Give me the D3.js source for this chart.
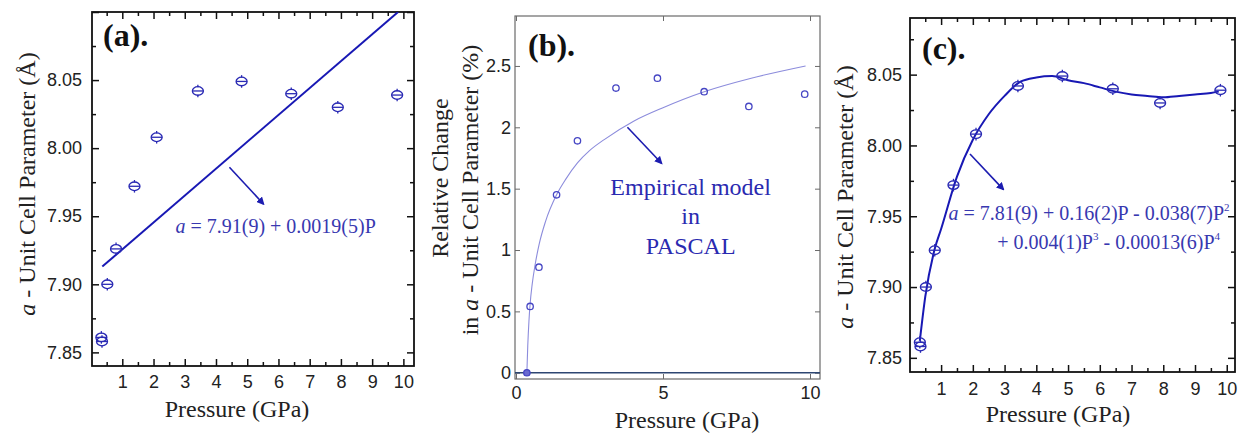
<!DOCTYPE html>
<html>
<head>
<meta charset="utf-8">
<script src="https://cdn.jsdelivr.net/npm/d3@7"></script>
<style>
body { margin: 0; background: #fff; }
svg { display: block; }
</style>
</head>
<body>
<svg id="chart"></svg>
<script>
const width = 1241;
const height = 434;

// measured lattice parameter, panels (a) and (c)
const pressure = [0.33, 0.35, 0.52, 0.80, 1.39, 2.10, 3.42, 4.82, 6.41, 7.90, 9.80];
const cellA = [7.861, 7.858, 7.900, 7.926, 7.972, 8.008, 8.042, 8.049, 8.040, 8.030, 8.039];

// relative change, panel (b)
const pressureB = [0.37, 0.48, 0.78, 1.38, 2.09, 3.40, 4.81, 6.40, 7.92, 9.82];
const relChange = [0.0, 0.54, 0.86, 1.45, 1.89, 2.32, 2.40, 2.29, 2.17, 2.27];

// fitted curves
const linearP = [0.36, 9.83];
const linearA = [7.913, 8.100];
const pascalP = [0.37, 0.40, 0.44, 0.48, 0.55, 0.65, 0.79, 1.0, 1.38, 1.7, 2.09, 2.5, 3.0, 4.0, 5.0, 6.4, 8.0, 9.85];
const pascalChange = [0.0, 0.22, 0.42, 0.56, 0.72, 0.88, 1.05, 1.23, 1.45, 1.58, 1.71, 1.81, 1.90, 2.05, 2.16, 2.29, 2.40, 2.50];
const polyP = [0.33, 0.5, 0.8, 1.0, 1.5, 2.0, 2.5, 3.0, 3.5, 4.0, 4.5, 5.0, 5.5, 6.0, 6.5, 7.0, 7.5, 8.0, 8.5, 9.0, 9.5, 9.75];
const polyA = [7.862, 7.893, 7.927, 7.941, 7.978, 8.004, 8.022, 8.035, 8.045, 8.048, 8.049, 8.046, 8.044, 8.041, 8.038, 8.036, 8.035, 8.034, 8.035, 8.036, 8.037, 8.038];

// ticks
const xTicksAC = [1, 2, 3, 4, 5, 6, 7, 8, 9, 10];
const xMinorAC = [0.5, 1.5, 2.5, 3.5, 4.5, 5.5, 6.5, 7.5, 8.5, 9.5];
const yTicksAC = [7.85, 7.90, 7.95, 8.00, 8.05, 8.10];
const yMinorAC = [7.875, 7.925, 7.975, 8.025, 8.075];
const xTicksB = [0, 5, 10];
const yTicksB = [0, 0.5, 1, 1.5, 2, 2.5];

const serif = "'Liberation Serif', 'Times New Roman', serif";
const sans = "'Liberation Sans', Arial, sans-serif";
const blue = "#2a2ab4";
const textBlue = "#3838b0";

const svg = d3.select("#chart")
    .attr("width", width)
    .attr("height", height);

const defs = svg.append("defs");

defs.append("marker")
    .attr("id", "head")
    .attr("viewBox", "0 0 10 10")
    .attr("refX", 8)
    .attr("refY", 5)
    .attr("markerWidth", 8)
    .attr("markerHeight", 8)
    .attr("markerUnits", "userSpaceOnUse")
    .attr("orient", "auto")
    .append("path")
    .attr("d", "M0,0 L10,5 L0,10 z")
    .attr("fill", "#1c1cb0");

function panel(o) {
    const g = svg.append("g");
    const x = d3.scaleLinear().domain(o.xDomain).range([o.left, o.right]);
    const y = d3.scaleLinear().domain(o.yDomain).range([o.bottom, o.top]);
    const inX = v => v >= o.xDomain[0] && v <= o.xDomain[1] + 1e-9;
    const inY = v => v >= o.yDomain[0] && v <= o.yDomain[1] + 1e-9;

    defs.append("clipPath")
        .attr("id", o.id)
        .append("rect")
        .attr("x", o.left)
        .attr("y", o.top)
        .attr("width", o.right - o.left)
        .attr("height", o.bottom - o.top);

    const axes = [
        [d3.axisBottom(x), o.bottom, o.xTicks, o.major, o.xFormat, o.xPad, "x"],
        [d3.axisTop(x), o.top, o.xTicks, o.major, "", 0, "x"],
        [d3.axisLeft(y), o.left, o.yTicks, o.major, o.yFormat, o.yPad, "y"],
        [d3.axisRight(y), o.right, o.yTicks, o.major, "", 0, "y"]
    ];
    if (o.xMinor) {
        axes.push([d3.axisBottom(x), o.bottom, o.xMinor, o.minor, "", 0, "x"]);
        axes.push([d3.axisTop(x), o.top, o.xMinor, o.minor, "", 0, "x"]);
        axes.push([d3.axisLeft(y), o.left, o.yMinor, o.minor, "", 0, "y"]);
        axes.push([d3.axisRight(y), o.right, o.yMinor, o.minor, "", 0, "y"]);
    }

    axes.forEach(([axis, pos, values, size, fmt, pad, dir]) => {
        axis.tickValues(values.filter(dir === "x" ? inX : inY))
            .tickSize(-size)
            .tickPadding(pad);
        axis.tickFormat(fmt === "" ? () => "" : fmt);
        const a = g.append("g")
            .attr("transform", dir === "x" ? `translate(0,${pos})` : `translate(${pos},0)`)
            .call(axis);
        a.select(".domain").remove();
        a.selectAll(".tick line")
            .attr("stroke", o.frameColor)
            .attr("stroke-width", o.tickWidth);
        a.selectAll(".tick text")
            .attr("font-family", sans)
            .attr("font-size", 18)
            .attr("fill", "#222");
    });

    g.append("rect")
        .attr("x", o.left)
        .attr("y", o.top)
        .attr("width", o.right - o.left)
        .attr("height", o.bottom - o.top)
        .attr("fill", "none")
        .attr("stroke", o.frameColor)
        .attr("stroke-width", o.frameWidth);

    const plot = g.append("g").attr("clip-path", `url(#${o.id})`);
    return { g, plot, x, y };
}

function errMarkers(p) {
    const m = p.g.append("g")
        .selectAll("g")
        .data(pressure.map((v, i) => [v, cellA[i]]))
        .join("g")
        .attr("transform", d => `translate(${p.x(d[0])},${p.y(d[1])})`)
        .attr("fill", "none")
        .attr("stroke", blue)
        .attr("stroke-width", 1.3);
    m.append("ellipse").attr("rx", 5.5).attr("ry", 4.3);
    m.append("line").attr("x1", -5.5).attr("x2", 5.5);
    m.append("line").attr("y1", -6.3).attr("y2", -3.8);
    m.append("line").attr("y1", 3.8).attr("y2", 6.3);
}

function arrow(p, x1, y1, x2, y2) {
    p.g.append("line")
        .attr("x1", p.x(x1))
        .attr("y1", p.y(y1))
        .attr("x2", p.x(x2))
        .attr("y2", p.y(y2))
        .attr("stroke", "#1c1cb0")
        .attr("stroke-width", 1.6)
        .attr("marker-end", "url(#head)");
}

function panelLabel(p, x, y, txt) {
    p.g.append("text")
        .attr("x", x)
        .attr("y", y)
        .attr("font-family", serif)
        .attr("font-weight", "bold")
        .attr("font-size", 32)
        .attr("fill", "#111")
        .text(txt);
}

function xTitle(p, cx, by) {
    p.g.append("text")
        .attr("x", cx)
        .attr("y", by)
        .attr("text-anchor", "middle")
        .attr("font-family", serif)
        .attr("font-size", 24)
        .attr("fill", "#222")
        .text("Pressure (GPa)");
}

function yTitle(p, cx, cy, before, after) {
    const t = p.g.append("text")
        .attr("transform", `translate(${cx},${cy}) rotate(-90)`)
        .attr("dy", "0.32em")
        .attr("text-anchor", "middle")
        .attr("font-family", serif)
        .attr("font-size", 24)
        .attr("fill", "#222");
    if (before) t.append("tspan").text(before);
    t.append("tspan").attr("font-style", "italic").text("a");
    t.append("tspan").text(after);
}

const line = d3.line().x(d => d.x).y(d => d.y);

// (a)
const pa = panel({
    id: "clipA", left: 92, right: 414, top: 12, bottom: 366,
    xDomain: [0.03, 10.34], yDomain: [7.84, 8.10],
    xTicks: xTicksAC, yTicks: yTicksAC, xMinor: xMinorAC, yMinor: yMinorAC,
    major: 7, minor: 4, xPad: 9, yPad: 10,
    xFormat: d3.format("d"), yFormat: d => d > 8.09 ? "" : d3.format(".2f")(d),
    frameColor: "#111", frameWidth: 1.8, tickWidth: 1.5
});

pa.plot.append("path")
    .attr("d", line(linearP.map((p, i) => ({ x: pa.x(p), y: pa.y(linearA[i]) }))))
    .attr("fill", "none")
    .attr("stroke", "#1818b4")
    .attr("stroke-width", 2);

errMarkers(pa);
arrow(pa, 4.43, 7.986, 5.52, 7.959);

const eqA = pa.g.append("text")
    .attr("x", pa.x(5.91))
    .attr("y", pa.y(7.938))
    .attr("text-anchor", "middle")
    .attr("font-family", serif)
    .attr("font-size", 20)
    .attr("fill", textBlue);
eqA.append("tspan").attr("font-style", "italic").text("a");
eqA.append("tspan").text(" = 7.91(9) + 0.0019(5)P");

panelLabel(pa, 103, 46, "(a).");
xTitle(pa, 237, 417);
yTitle(pa, 27, 184, "", " - Unit Cell Parameter (Å)");

// (b)
const pb = panel({
    id: "clipB", left: 515, right: 820, top: 16, bottom: 379,
    xDomain: [-0.034, 10.34], yDomain: [-0.051, 2.907],
    xTicks: xTicksB, yTicks: yTicksB,
    major: 5, xPad: 7, yPad: 4,
    xFormat: d3.format("d"), yFormat: d3.format("~g"),
    frameColor: "#6a6a6a", frameWidth: 1.2, tickWidth: 1
});

pb.plot.append("line")
    .attr("x1", pb.x(-0.034))
    .attr("x2", pb.x(10.34))
    .attr("y1", pb.y(0))
    .attr("y2", pb.y(0))
    .attr("stroke", "#2d4672")
    .attr("stroke-width", 1.6);

pb.plot.append("path")
    .attr("d", line.curve(d3.curveMonotoneX)(pascalP.map((p, i) => ({ x: pb.x(p), y: pb.y(pascalChange[i]) }))))
    .attr("fill", "none")
    .attr("stroke", "#8c8cdc")
    .attr("stroke-width", 1.1);

pb.g.append("g")
    .selectAll("circle")
    .data(pressureB.map((p, i) => [p, relChange[i]]))
    .join("circle")
    .attr("cx", d => pb.x(d[0]))
    .attr("cy", d => pb.y(d[1]))
    .attr("r", 3.2)
    .attr("fill", (d, i) => i === 0 ? "#6a6ad0" : "none")
    .attr("stroke", "#4646c4")
    .attr("stroke-width", 1.3);

arrow(pb, 3.79, 2.0, 4.95, 1.707);

["Empirical model", "in", "PASCAL"].forEach((s, i) => {
    pb.g.append("text")
        .attr("x", pb.x(5.94))
        .attr("y", pb.y([1.447, 1.21, 0.967][i]))
        .attr("text-anchor", "middle")
        .attr("font-family", serif)
        .attr("font-size", 24)
        .attr("fill", "#2a2ab0")
        .text(s);
});

panelLabel(pb, 528, 56, "(b).");
xTitle(pb, 687, 428);

pb.g.append("text")
    .attr("transform", "translate(440,178) rotate(-90)")
    .attr("dy", "0.32em")
    .attr("text-anchor", "middle")
    .attr("font-family", serif)
    .attr("font-size", 24)
    .attr("fill", "#222")
    .text("Relative Change");
yTitle(pb, 470, 190, "in ", " - Unit Cell Parameter (%)");

// (c)
const pc = panel({
    id: "clipC", left: 910, right: 1235, top: 18, bottom: 372,
    xDomain: [0.02, 10.26], yDomain: [7.84, 8.09],
    xTicks: xTicksAC, yTicks: yTicksAC, xMinor: xMinorAC, yMinor: yMinorAC,
    major: 7, minor: 4, xPad: 10, yPad: 8,
    xFormat: d3.format("d"), yFormat: d => d > 8.09 ? "" : d3.format(".2f")(d),
    frameColor: "#111", frameWidth: 1.8, tickWidth: 1.5
});

pc.plot.append("path")
    .attr("d", d3.line().curve(d3.curveMonotoneX)(polyP.map((p, i) => [pc.x(p), pc.y(polyA[i])])))
    .attr("fill", "none")
    .attr("stroke", "#1818b4")
    .attr("stroke-width", 2);

errMarkers(pc);
arrow(pc, 1.91, 7.994, 2.96, 7.969);

const eq1 = pc.g.append("text")
    .attr("x", pc.x(1.23))
    .attr("y", pc.y(7.947))
    .attr("font-family", serif)
    .attr("font-size", 20)
    .attr("fill", textBlue);
eq1.append("tspan").attr("font-style", "italic").text("a");
eq1.append("tspan").text(" = 7.81(9) + 0.16(2)P - 0.038(7)P");
eq1.append("tspan").attr("font-size", 11).attr("dy", -9).text("2");

const eq2 = pc.g.append("text")
    .attr("x", pc.x(9.79))
    .attr("y", pc.y(7.927))
    .attr("text-anchor", "end")
    .attr("font-family", serif)
    .attr("font-size", 20)
    .attr("fill", textBlue);
eq2.append("tspan").text("+ 0.004(1)P");
eq2.append("tspan").attr("font-size", 11).attr("dy", -9).text("3");
eq2.append("tspan").attr("dy", 9).text(" - 0.00013(6)P");
eq2.append("tspan").attr("font-size", 11).attr("dy", -9).text("4");

panelLabel(pc, 922, 59, "(c).");
xTitle(pc, 1058, 422);
yTitle(pc, 845, 197, "", " - Unit Cell Parameter (Å)");
</script>
</body>
</html>
